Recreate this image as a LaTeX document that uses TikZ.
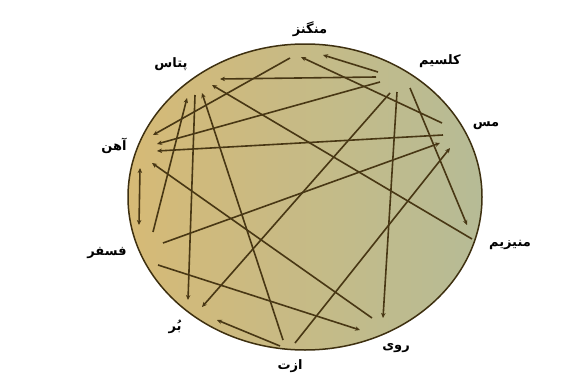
\documentclass[tikz,border=0pt]{standalone}
\usepackage{fontspec}
\newfontfamily\arabicfont[Script=Arabic]{DejaVu Sans}
\TeXXeTstate=1
\usetikzlibrary{arrows.meta}
\definecolor{rimbrown}{RGB}{62,48,16}
\definecolor{linebrown}{RGB}{72,55,20}
\definecolor{sandleft}{RGB}{214,186,118}
\definecolor{sageright}{RGB}{182,187,150}
\newcommand{\fa}[1]{{\arabicfont\bfseries\beginR #1\endR}}

\begin{document}
\begin{tikzpicture}[x=1pt, y=-1pt,
  elem/.style={font=\fontsize{13}{15}\selectfont, inner sep=1pt},
  arr/.style={-{Stealth[length=5pt, width=4.5pt]}, linebrown, line width=1.6pt},
  twoway/.style={{Stealth[length=5pt, width=4.5pt]}-{Stealth[length=5pt, width=4.5pt]},
    linebrown, line width=1.6pt}
]
\useasboundingbox (0,0) rectangle (586,388);

% Disc
\shadedraw[left color=sandleft, right color=sageright, draw=rimbrown, line width=1.5pt]
  (305,197) ellipse [x radius=177, y radius=153];

% Element labels round the disc
\node[elem] (mn) at (310,29)  {\fa{منگنز}};
\node[elem] (ca) at (440,61)  {\fa{کلسیم}};
\node[elem] (cu) at (486,126) {\fa{مس}};
\node[elem] (mg) at (510,245) {\fa{منیزیم}};
\node[elem] (zn) at (396,348) {\fa{روی}};
\node[elem] (n)  at (290,366) {\fa{ازت}};
\node[elem] (b)  at (175,327) {\fa{بُر}};
\node[elem] (p)  at (107,253) {\fa{فسفر}};
\node[elem] (fe) at (114,146) {\fa{آهن}};
\node[elem] (k)  at (171,64)  {\fa{پتاس}};

% Line ends near each element
\coordinate (mn1) at (290,58);  \coordinate (mn2) at (301,57);  \coordinate (mn3) at (323,55);
\coordinate (ca1) at (378,72);  \coordinate (ca2) at (376,77);  \coordinate (ca3) at (380,82);
\coordinate (ca4) at (390,93);  \coordinate (ca5) at (397,92);  \coordinate (ca6) at (410,88);
\coordinate (cu1) at (442,123); \coordinate (cu2) at (443,135); \coordinate (cu3) at (440,143);
\coordinate (cu4) at (450,148);
\coordinate (mg1) at (467,225); \coordinate (mg2) at (472,239);
\coordinate (zn1) at (383,318); \coordinate (zn2) at (372,318); \coordinate (zn3) at (360,330);
\coordinate (n1)  at (283,340); \coordinate (n2)  at (295,343); \coordinate (n3)  at (280,346);
\coordinate (b1)  at (188,300); \coordinate (b2)  at (202,307); \coordinate (b3)  at (217,320);
\coordinate (p1)  at (139,225); \coordinate (p2)  at (153,232); \coordinate (p3)  at (163,243);
\coordinate (p4)  at (158,265);
\coordinate (fe1) at (153,135); \coordinate (fe2) at (157,144); \coordinate (fe3) at (157,151);
\coordinate (fe4) at (152,163); \coordinate (fe5) at (140,168);
\coordinate (k1)  at (220,79);  \coordinate (k2)  at (212,85);  \coordinate (k3)  at (202,93);
\coordinate (k4)  at (195,95);  \coordinate (k5)  at (187,98);

% Manganese
\draw[arr] (ca1) -- (mn3);
\draw[arr] (cu1) -- (mn2);
\draw[arr] (mn1) -- (fe1);

% Potash
\draw[arr] (ca2) -- (k1);
\draw[arr] (mg2) -- (k2);
\draw[arr] (n1) -- (k3);
\draw[arr] (k4) -- (b1);
\draw[arr] (p2) -- (k5);

% Iron
\draw[arr] (ca3) -- (fe2);
\draw[arr] (cu2) -- (fe3);
\draw[arr] (zn2) -- (fe4);
\draw[twoway] (fe5) -- (p1);

% Phosphorus
\draw[arr] (p3) -- (cu3);
\draw[arr] (p4) -- (zn3);

% Nitrogen
\draw[arr] (n3) -- (b3);
\draw[arr] (n2) -- (cu4);

% Calcium
\draw[arr] (ca4) -- (b2);
\draw[arr] (ca5) -- (zn1);
\draw[arr] (ca6) -- (mg1);

\end{tikzpicture}
\end{document}
